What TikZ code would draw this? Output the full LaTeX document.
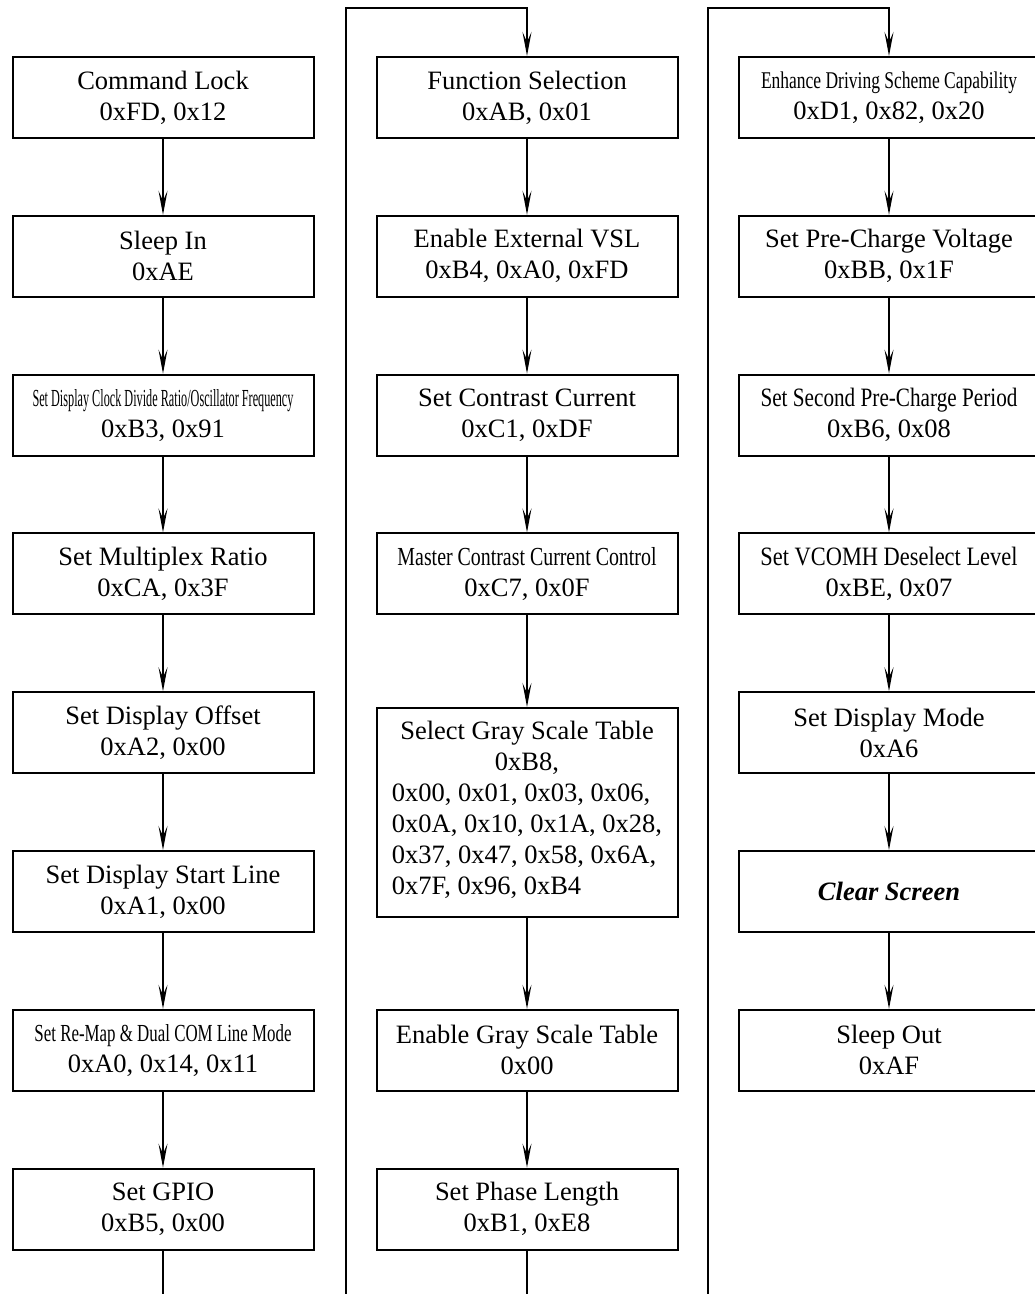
\documentclass[tikz,border=0pt]{standalone}
\usepackage{fontspec}
\setmainfont{Liberation Serif}
\usepackage{graphicx}
\usetikzlibrary{arrows.meta}
\newcommand{\cnd}[3]{\resizebox{#1pt}{\height}{\fontsize{#2}{#2}\selectfont #3}}
\begin{document}
\begin{tikzpicture}[x=1pt,y=-1pt,
  box/.style={draw, line width=2pt, minimum width=301pt, minimum height=81pt, inner sep=0pt, align=center, font=\fontsize{26.5}{31}\selectfont},
  tip/.style={-{Stealth[length=24pt,width=9pt,inset=10pt]}},
  conn/.style={line width=1.3pt, tip},
  plain/.style={line width=1.3pt},
  route/.style={line width=1.8pt}]
\useasboundingbox (0,0) rectangle (1035,1294);
% column 1
\node[box] (a1) at (163,97.5) {Command Lock\\0xFD, 0x12};
\node[box] (a2) at (163,256.3) {Sleep In\\0xAE};
\node[box] (a3) at (163,415.1) {\cnd{261}{24.5}{Set Display Clock Divide Ratio/Oscillator Frequency}\\0xB3, 0x91};
\node[box] (a4) at (163,573.9) {Set Multiplex Ratio\\0xCA, 0x3F};
\node[box] (a5) at (163,732.7) {Set Display Offset\\0xA2, 0x00};
\node[box] (a6) at (163,891.5) {Set Display Start Line\\0xA1, 0x00};
\node[box] (a7) at (163,1050.3) {\cnd{257}{24.5}{Set Re-Map \& Dual COM Line Mode}\\0xA0, 0x14, 0x11};
\node[box] (a8) at (163,1209.1) {Set GPIO\\0xB5, 0x00};
% column 2
\node[box] (b1) at (527,97.5) {Function Selection\\0xAB, 0x01};
\node[box] (b2) at (527,256.3) {Enable External VSL\\0xB4, 0xA0, 0xFD};
\node[box] (b3) at (527,415.1) {Set Contrast Current\\0xC1, 0xDF};
\node[box] (b4) at (527,573.9) {\cnd{259}{26}{Master Contrast Current Control}\\0xC7, 0x0F};
\node[box, minimum height=209pt] (b5) at (527,812.5) {Select Gray Scale Table\\0xB8,\\\begin{tabular}[t]{@{}l@{}}0x00, 0x01, 0x03, 0x06,\\0x0A, 0x10, 0x1A, 0x28,\\0x37, 0x47, 0x58, 0x6A,\\0x7F, 0x96, 0xB4\end{tabular}};
\node[box] (b6) at (527,1050.3) {Enable Gray Scale Table\\0x00};
\node[box] (b7) at (527,1209.1) {Set Phase Length\\0xB1, 0xE8};
% column 3
\node[box] (c1) at (889,97.5) {\cnd{256}{24}{Enhance Driving Scheme Capability}\\0xD1, 0x82, 0x20};
\node[box] (c2) at (889,256.3) {Set Pre-Charge Voltage\\0xBB, 0x1F};
\node[box] (c3) at (889,415.1) {\cnd{257}{26.5}{Set Second Pre-Charge Period}\\0xB6, 0x08};
\node[box] (c4) at (889,573.9) {\cnd{257}{26.5}{Set VCOMH Deselect Level}\\0xBE, 0x07};
\node[box] (c5) at (889,732.7) {Set Display Mode\\0xA6};
\node[box] (c6) at (889,891.5) {\textbf{\textit{Clear Screen}}};
\node[box] (c7) at (889,1050.3) {Sleep Out\\0xAF};
% free ends
\coordinate (e1) at (163,1294);
\coordinate (r2b) at (346,1294);
\coordinate (r2t) at (346,8);
\coordinate (e2) at (527,1294);
\coordinate (r3b) at (708,1294);
\coordinate (r3t) at (708,8);
% connectors
\foreach \p/\q in {a1/a2,a2/a3,a3/a4,a4/a5,a5/a6,a6/a7,a7/a8,
                   b1/b2,b2/b3,b3/b4,b4/b5,b5/b6,b6/b7,
                   c1/c2,c2/c3,c3/c4,c4/c5,c5/c6,c6/c7}
  \draw[conn] (\p.south) -- (\q.north);
\draw[plain] (a8.south) -- (e1);
\draw[plain] (b7.south) -- (e2);
\draw[route, tip] (r2b) -- (r2t) -| (b1.north);
\draw[route, tip] (r3b) -- (r3t) -| (c1.north);
\end{tikzpicture}
\end{document}
